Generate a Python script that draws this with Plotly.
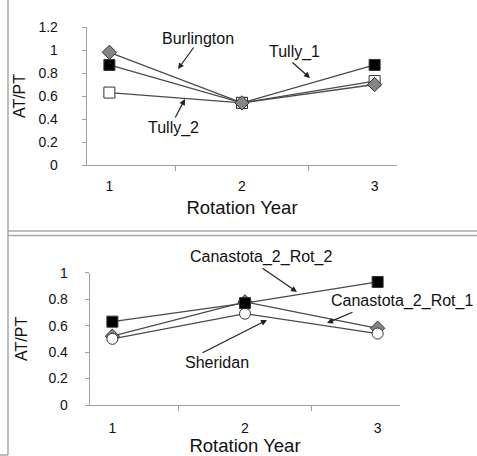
import plotly.graph_objects as go

W, H = 477, 456

years = ["1", "2", "3"]

# Top panel
burlington = [0.98, 0.54, 0.70]
tully_1 = [0.87, 0.54, 0.87]
tully_2 = [0.63, 0.54, 0.73]

# Bottom panel
canastota_rot_1 = [0.52, 0.78, 0.58]
sheridan = [0.50, 0.69, 0.54]
canastota_rot_2 = [0.63, 0.77, 0.93]

y_ticks_top = [0, 0.2, 0.4, 0.6, 0.8, 1.0, 1.2]
y_ticks_bot = [0, 0.2, 0.4, 0.6, 0.8, 1.0]


def px(x):
    return x / W


def py(y):
    return 1 - y / H


LINE = "#4a4a4a"
AX = "#a0a0a0"
TXT = "#111111"
FONT = "Liberation Sans, Arial, sans-serif"

fig = go.Figure()


def add(x, y, xa, ya, symbol, fill, size, name):
    fig.add_trace(go.Scatter(
        x=x, y=y, xaxis=xa, yaxis=ya, mode="lines+markers", name=name,
        line=dict(color=LINE, width=1.3),
        marker=dict(symbol=symbol, size=size, color=fill,
                    line=dict(color="#333333", width=1)),
        showlegend=False))


add(years, tully_1, "x", "y", "square", "#000000", 11, "Tully_1")
add(years, tully_2, "x", "y", "square", "#ffffff", 11, "Tully_2")
add(years, burlington, "x", "y", "diamond", "#858585", 11, "Burlington")

add(years, canastota_rot_1, "x2", "y2", "diamond", "#858585", 11, "Canastota_2_Rot_1")
add(years, sheridan, "x2", "y2", "circle", "#ffffff", 11, "Sheridan")
add(years, canastota_rot_2, "x2", "y2", "square", "#000000", 11, "Canastota_2_Rot_2")

xcommon = dict(type="category", tickson="boundaries", ticks="outside", ticklen=5,
               tickcolor=AX, showline=True, linecolor=AX, linewidth=1.3,
               showgrid=False, zeroline=False, fixedrange=True, automargin=False,
               tickfont=dict(family=FONT, size=14, color=TXT),
               title=dict(text="Rotation Year", font=dict(family=FONT, size=18.5, color=TXT)))
ycommon = dict(ticks="outside", ticklen=4, tickcolor=AX, showline=True, linecolor=AX,
               linewidth=1.3, showgrid=False, zeroline=False, fixedrange=True,
               automargin=False,
               tickfont=dict(family=FONT, size=14, color=TXT),
               title=dict(text="AT/PT", font=dict(family=FONT, size=16, color=TXT)))

fig.update_layout(
    width=W, height=H, margin=dict(l=0, r=0, t=0, b=0, autoexpand=False),
    paper_bgcolor="white", plot_bgcolor="white",
    xaxis=dict(xcommon, domain=[px(87), px(397)], anchor="y", ticklabelstandoff=8,
               title_standoff=8),
    yaxis=dict(ycommon, domain=[py(165), py(27)], anchor="x", range=[0, 1.2],
               tickvals=y_ticks_top, ticklabelstandoff=21, title_standoff=8),
    xaxis2=dict(xcommon, domain=[px(90), px(400)], anchor="y2", ticklabelstandoff=10,
                title_standoff=5),
    yaxis2=dict(ycommon, domain=[py(405), py(272.7)], anchor="x2", range=[0, 1],
                tickvals=y_ticks_bot, ticklabelstandoff=14, title_standoff=16),
)

# Frame lines
frame = dict(type="line", xref="paper", yref="paper", line=dict(color="#a8a8a8", width=1.5))
fig.add_shape(frame, x0=px(8), x1=px(8), y0=py(0), y1=py(455))
fig.add_shape(frame, x0=px(8), x1=1, y0=py(231), y1=py(231))
fig.add_shape(frame, x0=px(8), x1=1, y0=py(235.5), y1=py(235.5))
fig.add_shape(frame, x0=0, x1=px(8), y0=py(455), y1=py(455))

# Labels with arrows
labels = [
    ("Burlington", 198, 38, (194, 47), (178, 69)),
    ("Tully_1", 294, 52, (292, 62), (310, 78)),
    ("Tully_2", 173, 128, (175, 118), (185, 99)),
    ("Canastota_2_Rot_2", 261, 257, (262, 268), (297, 292)),
    ("Canastota_2_Rot_1", 402, 301, (353, 312), (327, 323)),
    ("Sheridan", 217, 362, (202, 353), (267, 320)),
]
for text, tx, ty, tail, head in labels:
    fig.add_annotation(text=text, x=px(tx), y=py(ty), xref="paper", yref="paper",
                       xanchor="center", yanchor="middle",
                       showarrow=False, font=dict(family=FONT, size=16, color=TXT))
    fig.add_annotation(text="", x=px(head[0]), y=py(head[1]), xref="paper", yref="paper",
                       ax=tail[0] - head[0], ay=tail[1] - head[1], showarrow=True,
                       standoff=0, startstandoff=0, borderpad=0, font=dict(size=1),
                       arrowhead=2, arrowsize=1, arrowwidth=1.2, arrowcolor="#222222")

fig.write_html("out.html",
               config={"displayModeBar": False, "staticPlot": True},
               post_script="document.body.style.margin='0';"
                           "document.body.style.overflow='hidden';")
